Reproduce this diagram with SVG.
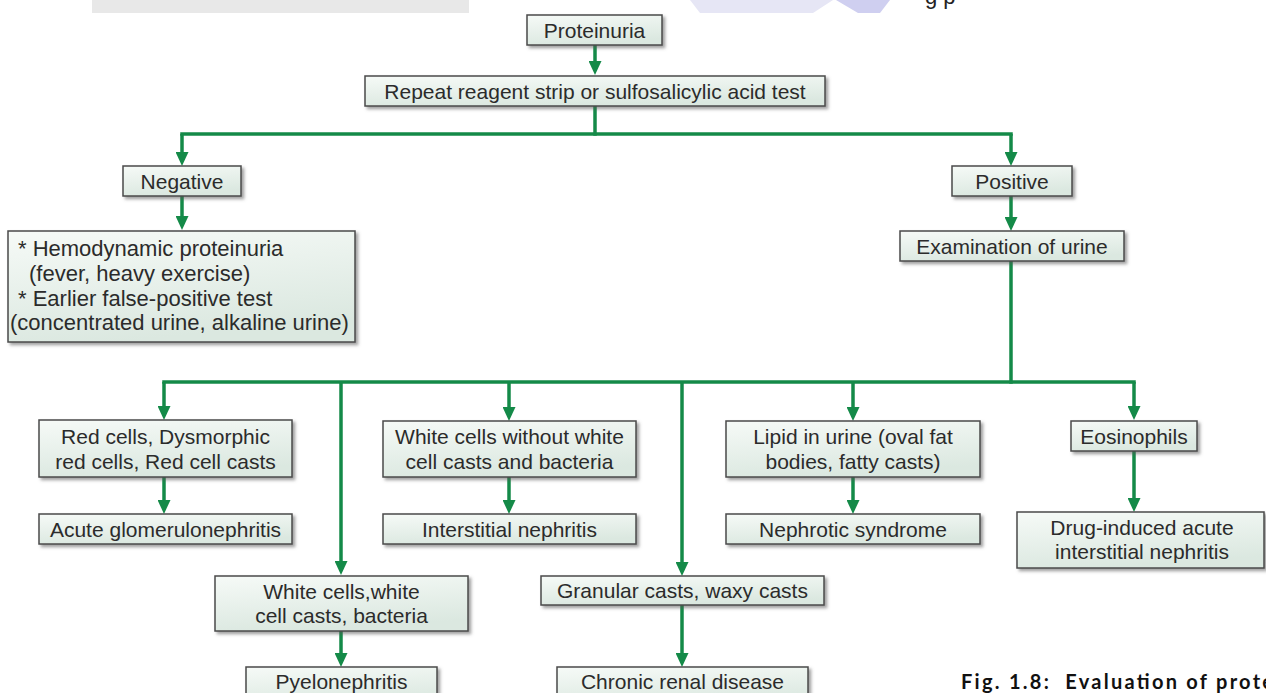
<svg xmlns="http://www.w3.org/2000/svg" width="1266" height="693" viewBox="0 0 1266 693">
  <defs>
    <linearGradient id="boxfill" x1="0" y1="0" x2="0.3" y2="1">
      <stop offset="0" stop-color="#f6faf7"/>
      <stop offset="1" stop-color="#dbe8e0"/>
    </linearGradient>
    <filter id="shadow" x="-10%" y="-20%" width="125%" height="150%">
      <feDropShadow dx="2.5" dy="2.5" stdDeviation="1.5" flood-color="#555" flood-opacity="0.55"/>
    </filter>
    <marker id="arrow" markerUnits="userSpaceOnUse" viewBox="0 0 14 13" markerWidth="14" markerHeight="13" refX="6" refY="6.5" orient="auto">
      <path d="M0,0 L14,6.5 L0,13 z" fill="#148a48"/>
    </marker>
  </defs>
  <style>
    .box { fill: url(#boxfill); stroke: #4a4a4a; stroke-width: 1.5; filter: url(#shadow); }
    .lbl { font-family: "Liberation Sans", Arial, sans-serif; font-size: 21px; fill: #2b2b2b; text-anchor: middle; }
    .lft { text-anchor: start; font-size: 22px; }
    .ln { fill: none; stroke: #148a48; stroke-width: 3.5; stroke-linecap: square; }
    .ar { fill: none; stroke: #148a48; stroke-width: 3.5; marker-end: url(#arrow); }
  </style>
  <rect width="1266" height="693" fill="#ffffff"/>

  <!-- top fragments -->
  <rect x="92" y="0" width="377" height="13" fill="#e8e8e8"/>
  <polygon points="690,0 833,0 813,13 700,13" fill="#e6e6f5"/>
  <polygon points="836,0 890,0 880,13 858,13" fill="#cfcff0"/>
  <text x="925" y="4" style="font-family: 'Liberation Sans', Arial, sans-serif; font-size: 22px; fill: #222;">g p</text>

  <g id="connectors">
    <path class="ar" d="M595,45 V67"/>
    <path class="ln" d="M595,106 V134"/>
    <path class="ln" d="M182,134 H1011"/>
    <path class="ar" d="M182,134 V158"/>
    <path class="ar" d="M1011,134 V158"/>
    <path class="ar" d="M182,196 V222"/>
    <path class="ar" d="M1011,196 V223"/>
    <path class="ln" d="M1011,261 V382"/>
    <path class="ln" d="M164,382 H1134"/>
    <path class="ar" d="M164,382 V412"/>
    <path class="ar" d="M341,382 V567"/>
    <path class="ar" d="M509,382 V413"/>
    <path class="ar" d="M682,382 V568"/>
    <path class="ar" d="M853,382 V413"/>
    <path class="ar" d="M1134,382 V412"/>
    <path class="ar" d="M164,477 V506"/>
    <path class="ar" d="M509,477 V506"/>
    <path class="ar" d="M853,477 V506"/>
    <path class="ar" d="M1134,451 V504"/>
    <path class="ar" d="M341,631 V659"/>
    <path class="ar" d="M682,605 V659"/>
  </g>

  <g id="n-proteinuria">
    <rect class="box" x="527" y="15" width="135" height="30"/>
    <text class="lbl" x="594.5" y="37.5">Proteinuria</text>
  </g>
  <g id="n-repeat">
    <rect class="box" x="365" y="76" width="460" height="30"/>
    <text class="lbl" x="595" y="98.5">Repeat reagent strip or sulfosalicylic acid test</text>
  </g>
  <g id="n-negative">
    <rect class="box" x="123" y="166" width="118" height="30"/>
    <text class="lbl" x="182" y="188.5">Negative</text>
  </g>
  <g id="n-positive">
    <rect class="box" x="952" y="166" width="120" height="30"/>
    <text class="lbl" x="1012" y="188.5">Positive</text>
  </g>
  <g id="n-hemodynamic">
    <rect class="box" x="8" y="231" width="347" height="111"/>
    <text class="lbl lft" x="18" y="256">* Hemodynamic proteinuria</text>
    <text class="lbl lft" x="29" y="281">(fever, heavy exercise)</text>
    <text class="lbl lft" x="18" y="306">* Earlier false-positive test</text>
    <text class="lbl lft" x="10" y="330">(concentrated urine, alkaline urine)</text>
  </g>
  <g id="n-examination">
    <rect class="box" x="900" y="231" width="224" height="30"/>
    <text class="lbl" x="1012" y="253.5">Examination of urine</text>
  </g>
  <g id="n-redcells">
    <rect class="box" x="39" y="420" width="253" height="57"/>
    <text class="lbl" x="165.5" y="443.5">Red cells, Dysmorphic</text>
    <text class="lbl" x="165.5" y="468.5">red cells, Red cell casts</text>
  </g>
  <g id="n-acute-gn">
    <rect class="box" x="39" y="514" width="253" height="30"/>
    <text class="lbl" x="165.5" y="536.5">Acute glomerulonephritis</text>
  </g>
  <g id="n-wbc-no-casts">
    <rect class="box" x="383" y="421" width="253" height="56"/>
    <text class="lbl" x="509.5" y="443.5">White cells without white</text>
    <text class="lbl" x="509.5" y="468.5">cell casts and bacteria</text>
  </g>
  <g id="n-interstitial">
    <rect class="box" x="383" y="514" width="253" height="30"/>
    <text class="lbl" x="509.5" y="536.5">Interstitial nephritis</text>
  </g>
  <g id="n-lipid">
    <rect class="box" x="726" y="421" width="254" height="56"/>
    <text class="lbl" x="853" y="443.5">Lipid in urine (oval fat</text>
    <text class="lbl" x="853" y="468.5">bodies, fatty casts)</text>
  </g>
  <g id="n-nephrotic">
    <rect class="box" x="726" y="514" width="254" height="30"/>
    <text class="lbl" x="853" y="536.5">Nephrotic syndrome</text>
  </g>
  <g id="n-eosinophils">
    <rect class="box" x="1071" y="421" width="126" height="30"/>
    <text class="lbl" x="1134" y="443.5">Eosinophils</text>
  </g>
  <g id="n-drug">
    <rect class="box" x="1017" y="512" width="247" height="56"/>
    <text class="lbl" x="1142" y="535">Drug-induced acute</text>
    <text class="lbl" x="1142" y="559">interstitial nephritis</text>
  </g>
  <g id="n-wbc-casts">
    <rect class="box" x="215" y="576" width="253" height="55"/>
    <text class="lbl" x="341.5" y="598.5">White cells,white</text>
    <text class="lbl" x="341.5" y="622.5">cell casts, bacteria</text>
  </g>
  <g id="n-pyelo">
    <rect class="box" x="246" y="667" width="191" height="40"/>
    <text class="lbl" x="341.5" y="689">Pyelonephritis</text>
  </g>
  <g id="n-granular">
    <rect class="box" x="541" y="576" width="283" height="29"/>
    <text class="lbl" x="682.5" y="598">Granular casts, waxy casts</text>
  </g>
  <g id="n-chronic">
    <rect class="box" x="557" y="667" width="251" height="40"/>
    <text class="lbl" x="682.5" y="689">Chronic renal disease</text>
  </g>

  <text x="961" y="689" xml:space="preserve" textLength="312" lengthAdjust="spacing" style="font-family: Lato, 'Liberation Sans', Arial, sans-serif; font-weight: bold; font-size: 20px; fill: #111;">Fig. 1.8:  Evaluation of prote</text>
</svg>
